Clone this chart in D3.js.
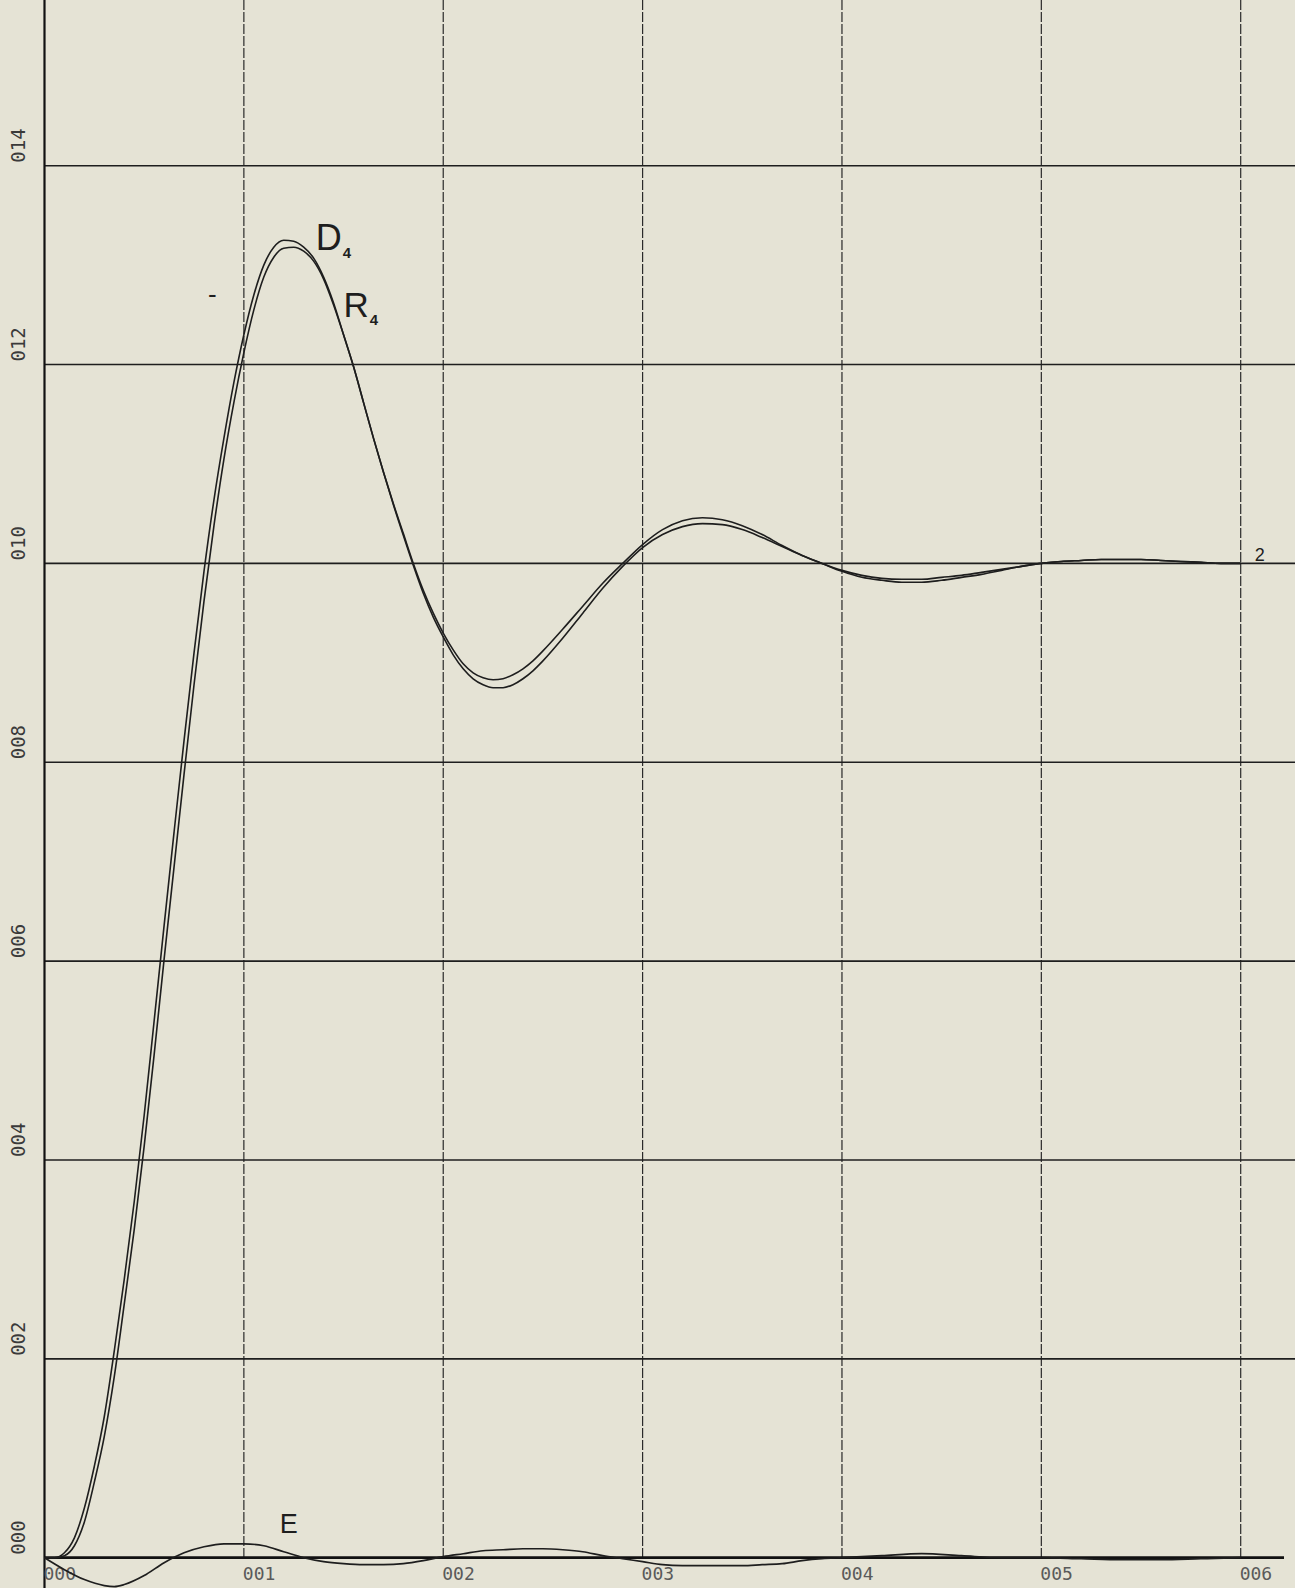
<!DOCTYPE html>
<html>
<head>
<meta charset="utf-8">
<script src="https://cdn.jsdelivr.net/npm/d3@7"></script>
<style>
  html, body { margin: 0; padding: 0; background: #e5e3d5; }
  svg { display: block; }
</style>
</head>
<body>
<svg id="chart" width="1295" height="1588"></svg>
<script>
// ---- data ----
const xTicks = [0, 1, 2, 3, 4, 5, 6];
const xTickLabels = ["000", "001", "002", "003", "004", "005", "006"];
const yTicks = [0, 2, 4, 6, 8, 10, 12, 14];
const yTickLabels = ["000", "002", "004", "006", "008", "010", "012", "014"];

const timeD4 = [0.00,0.05,0.10,0.15,0.20,0.25,0.30,0.35,0.40,0.45,0.50,0.55,0.60,0.65,0.70,0.75,0.80,0.85,0.90,0.95,
  1.00,1.05,1.10,1.15,1.20,1.25,1.30,1.35,1.40,1.45,1.50,1.55,1.60,1.65,1.70,1.75,1.80,1.85,1.90,1.95,
  2.00,2.05,2.10,2.15,2.20,2.25,2.30,2.35,2.40,2.45,2.50,2.60,2.70,2.80,2.90,3.00,3.10,3.20,3.30,3.40,
  3.50,3.60,3.70,3.80,3.90,4.00,4.10,4.20,4.30,4.40,4.50,4.60,4.70,4.80,4.90,5.00,5.10,5.20,5.30,5.40,
  5.50,5.60,5.70,5.80,5.90,6.00];
const valuesD4 = [0.00,0.00,0.05,0.20,0.50,0.92,1.42,2.08,2.80,3.58,4.45,5.40,6.36,7.30,8.22,9.10,9.92,10.64,11.26,11.82,
  12.30,12.70,13.00,13.18,13.25,13.24,13.18,13.07,12.88,12.62,12.30,11.98,11.62,11.26,10.92,10.60,10.30,10.00,9.73,9.50,
  9.30,9.13,8.99,8.90,8.85,8.83,8.84,8.88,8.94,9.02,9.12,9.34,9.57,9.80,10.00,10.19,10.34,10.43,10.46,10.44,
  10.38,10.29,10.18,10.08,10.00,9.93,9.88,9.85,9.84,9.84,9.86,9.88,9.91,9.94,9.97,10.00,10.02,10.03,10.04,10.04,
  10.04,10.03,10.02,10.01,10.00,10.00];
const valuesR4 = [0.00,0.00,0.02,0.12,0.36,0.76,1.22,1.82,2.55,3.30,4.14,5.06,6.02,6.95,7.88,8.78,9.62,10.38,11.05,11.62,
  12.12,12.55,12.88,13.08,13.17,13.18,13.14,13.04,12.86,12.60,12.30,11.98,11.62,11.26,10.92,10.59,10.28,9.98,9.70,9.46,
  9.26,9.08,8.94,8.84,8.78,8.75,8.75,8.78,8.84,8.92,9.02,9.25,9.50,9.75,9.97,10.16,10.29,10.37,10.40,10.39,
  10.34,10.26,10.17,10.08,10.00,9.92,9.86,9.83,9.81,9.81,9.83,9.86,9.89,9.93,9.97,10.00,10.02,10.03,10.04,10.04,
  10.04,10.03,10.02,10.01,10.00,10.00];

const timeE = [0.0,0.1,0.2,0.3,0.35,0.4,0.5,0.6,0.7,0.8,0.9,1.0,1.1,1.2,1.3,1.4,1.5,1.6,1.7,1.8,1.9,
  2.0,2.1,2.2,2.3,2.4,2.5,2.6,2.7,2.8,2.9,3.0,3.1,3.2,3.3,3.4,3.5,3.6,3.7,3.8,3.9,
  4.0,4.2,4.4,4.6,4.8,5.0,5.2,5.4,5.6,5.8,6.0];
const valuesE = [0.00,-0.12,-0.22,-0.28,-0.29,-0.27,-0.18,-0.05,0.05,0.11,0.14,0.14,0.12,0.06,0.00,-0.04,-0.06,-0.07,-0.07,-0.06,-0.03,
  0.01,0.04,0.07,0.08,0.09,0.09,0.08,0.06,0.02,-0.01,-0.04,-0.07,-0.08,-0.08,-0.08,-0.08,-0.07,-0.06,-0.03,-0.01,
  0.00,0.02,0.04,0.02,0.00,0.00,-0.01,-0.02,-0.02,-0.01,0.00];

const labelD = {t: 1.36, v: 13.15};
const labelR = {t: 1.50, v: 12.48};
const labelE = {t: 1.18, v: 0.25};

// ---- drawing ----
const svg = d3.select("#chart");
const W = 1295, H = 1588;
const x = d3.scaleLinear().domain([0, 6]).range([44.5, 1240.7]);
const y = d3.scaleLinear().domain([0, 14]).range([1557.7, 165.7]);
const ink = "#1e1e1e";

svg.append("rect").attr("width", W).attr("height", H).attr("fill", "#e5e3d5");

// vertical grid lines (dashed)
svg.append("g").selectAll("line").data(xTicks.slice(1)).join("line")
  .attr("x1", d => x(d)).attr("x2", d => x(d))
  .attr("y1", 0).attr("y2", y(0))
  .attr("stroke", "#2a2a2a").attr("stroke-width", 1.2)
  .attr("stroke-dasharray", "10,2");

// horizontal grid lines
svg.append("g").selectAll("line").data(yTicks.slice(1)).join("line")
  .attr("x1", x(0)).attr("x2", W)
  .attr("y1", d => y(d)).attr("y2", d => y(d))
  .attr("stroke", ink).attr("stroke-width", 1.6);

// base axis
svg.append("line").attr("x1", x(0)).attr("x2", 1284)
  .attr("y1", y(0)).attr("y2", y(0))
  .attr("stroke", "#111").attr("stroke-width", 2.8);
// left axis
svg.append("line").attr("x1", x(0)).attr("x2", x(0))
  .attr("y1", 0).attr("y2", H)
  .attr("stroke", "#111").attr("stroke-width", 2.2);

// y tick labels (rotated)
svg.append("g").selectAll("text").data(yTicks).join("text")
  .attr("transform", (d) => `translate(25,${y(d) - 3}) rotate(-90)`)
  .attr("text-anchor", "start")
  .attr("font-family", "'DejaVu Sans Mono', monospace")
  .attr("font-size", 19)
  .attr("fill", "#3a3a3a")
  .text((d, i) => yTickLabels[i]);

// x tick labels
svg.append("g").selectAll("text").data(xTicks).join("text")
  .attr("x", d => x(d) - 1).attr("y", 1580)
  .attr("text-anchor", "start")
  .attr("font-family", "'DejaVu Sans Mono', monospace")
  .attr("font-size", 18)
  .attr("fill", "#5a5a5a")
  .text((d, i) => xTickLabels[i]);

// curves
const line = d3.line().curve(d3.curveMonotoneX)
  .x(d => x(d[0])).y(d => y(d[1]));
const seriesD4 = timeD4.map((t, i) => [t, valuesD4[i]]);
const seriesR4 = timeD4.map((t, i) => [t, valuesR4[i]]);
const seriesE = timeE.map((t, i) => [t, valuesE[i]]);

[seriesD4, seriesR4].forEach(s => {
  svg.append("path").datum(s).attr("d", line)
    .attr("fill", "none").attr("stroke", ink).attr("stroke-width", 1.6);
});
svg.append("path").datum(seriesE).attr("d", line)
  .attr("fill", "none").attr("stroke", ink).attr("stroke-width", 1.7);

// curve labels
const lbl = svg.append("g").attr("font-family", "'Liberation Sans', Arial, sans-serif").attr("fill", ink);
const tD = lbl.append("text").attr("x", x(labelD.t)).attr("y", y(labelD.v)).attr("font-size", 36);
tD.append("tspan").text("D");
tD.append("tspan").attr("font-size", 15).attr("dy", 8).attr("dx", 1).attr("font-weight", "bold").text("4");
const tR = lbl.append("text").attr("x", x(labelR.t)).attr("y", y(labelR.v)).attr("font-size", 35);
tR.append("tspan").text("R");
tR.append("tspan").attr("font-size", 15).attr("dy", 8).attr("dx", 1).attr("font-weight", "bold").text("4");
lbl.append("text").attr("x", x(labelE.t)).attr("y", y(labelE.v)).attr("font-size", 27).text("E");

// small marks
lbl.append("text").attr("x", x(0.82)).attr("y", y(12.62)).attr("font-size", 26).text("-");
lbl.append("text").attr("x", x(6.07)).attr("y", y(10.0) - 2).attr("font-size", 18).text("2");
</script>
</body>
</html>
